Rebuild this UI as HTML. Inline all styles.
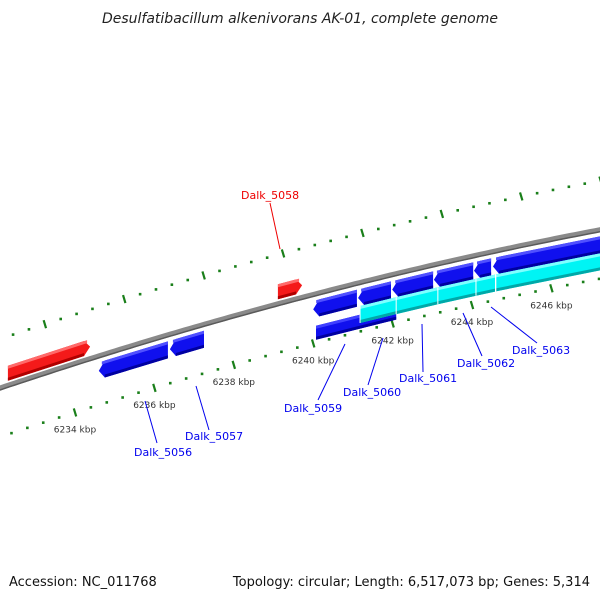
<!DOCTYPE html>
<html><head><meta charset="utf-8"><style>
html,body{margin:0;padding:0;background:#fff;}
svg{display:block;font-family:"DejaVu Sans","Liberation Sans",sans-serif;}
</style></head><body>
<svg id="chart" width="600" height="600" viewBox="0 0 600 600" xmlns="http://www.w3.org/2000/svg">
<text x="300" y="23" text-anchor="middle" font-size="14" font-style="italic" fill="#222">Desulfatibacillum alkenivorans AK-01, complete genome</text>
<g id="ticks"></g>
<g id="backbone"></g>
<g id="genes"></g>
<g id="labels"></g>
<text x="9" y="586" font-size="13" fill="#111">Accession: NC_011768</text>
<text x="590" y="586" text-anchor="end" font-size="13" fill="#111">Topology: circular; Length: 6,517,073 bp; Genes: 5,314</text>
</svg>
<script>
// gene data (kbp)
const geneStart = [6232.31,6239.11,6234.60,6236.39,6240.00,6241.13,6241.99,6243.04,6244.05,6244.53,6240.07,6241.18,6242.09,6243.14,6244.10,6244.60];
const geneEnd   = [6234.38,6239.72,6236.34,6237.25,6241.10,6241.96,6243.02,6244.03,6244.48,6247.40,6242.09,6242.09,6243.14,6244.10,6244.58,6247.40];
const geneTrack = ['red','red','b1','b1','b1','b1','b1','b1','b1','b1','b2','cy','cy','cy','cy','cy'];
const geneDir   = [1,1,-1,-1,-1,-1,-1,-1,-1,-1,0,0,0,0,0,0];
const kbpTicks = [6234,6236,6238,6240,6242,6244,6246];
const labelNames = ['Dalk_5058','Dalk_5056','Dalk_5057','Dalk_5059','Dalk_5060','Dalk_5061','Dalk_5062','Dalk_5063'];

const NS='http://www.w3.org/2000/svg';
function gy(x){return 388-0.337*x+1.22e-4*x*x;}
function xk(kb){return 75+(kb-6234)*39.7;}
function mk(tag,attrs,parent){const e=document.createElementNS(NS,tag);for(const k in attrs)e.setAttribute(k,attrs[k]);parent.appendChild(e);return e;}
function pts(a){return a.map(p=>p[0].toFixed(1)+','+p[1].toFixed(1)).join(' ');}

// backbone
const bb=document.getElementById('backbone');
let d1='',d2='';
for(let x=-5;x<=605;x+=5){d1+=(x===-5?'M':'L')+x+','+(gy(x)).toFixed(1);d2+=(x===-5?'M':'L')+x+','+(gy(x)+2).toFixed(1);}
const b1=mk('path',{d:d1,stroke:'#8a8a8a','stroke-width':5,fill:'none'},bb);


const b2=mk('path',{d:d2,stroke:'#5a5a5a','stroke-width':1.5,fill:'none'},bb);



// ticks
const tg=document.getElementById('ticks');
function drawTrack(phase,off,name){
  for(let i=-10;i<50;i++){
    const kb=phase+i*0.4;const x=xk(kb);if(x<-5||x>605)continue;
    const y=gy(x)+off;const major=(((i%5)+5)%5)===0;
    let e;
    if(major){e=mk('line',{x1:x-1.2,y1:y-4,x2:x+1.2,y2:y+4,stroke:'#1a7f1a','stroke-width':2.2},tg);}
    else{e=mk('rect',{x:x-1.3,y:y-1.3,width:2.6,height:2.6,fill:'#1a7f1a'},tg);}
    
    
  }
}
drawTrack(6234,49,'lower-tick');
drawTrack(6233.24,-49,'upper-tick');
kbpTicks.forEach(kb=>{
  const x=xk(kb);
  const t=mk('text',{x:x,y:gy(x)+49+20,'text-anchor':'middle','font-size':9,fill:'#333'},tg);
  t.textContent=kb+' kbp';
  
  
});

// genes
const gg=document.getElementById('genes');
const tracks={red:{o:-12,h:15,c:'#f41a1a',hi:'#ff6a6a',lo:'#b00000'},b1:{o:15,h:17,c:'#1010ee',hi:'#5050ff',lo:'#0000a0'},b2:{o:39,h:14,c:'#1010ee',hi:'#4040ff',lo:'#0000a0'},cy:{o:32,h:17,c:'#00f4f4',hi:'#7fffff',lo:'#00a8a8'}};
function band(x1,x2,o,t1,t2,dir,tip){
  const c=o;
  const T=(x,off)=>[x,gy(x)+off];
  if(dir===-1){return [T(x1,c),T(x1+tip,t1),T(x2,t1),T(x2,t2),T(x1+tip,t2)];}
  if(dir===1){return [T(x1,t1),T(x2-tip,t1),T(x2,c),T(x2-tip,t2),T(x1,t2)];}
  return [T(x1,t1),T(x2,t1),T(x2,t2),T(x1,t2)];
}
for(let i=0;i<geneStart.length;i++){
  const tr=tracks[geneTrack[i]];
  const x1=xk(geneStart[i]),x2=xk(geneEnd[i]);
  const top=tr.o-tr.h/2,bot=tr.o+tr.h/2,dir=geneDir[i],tip=6;
  const g=mk('g',{},gg);
  
  
  mk('polygon',{points:pts(band(x1,x2,tr.o,top,bot,dir,tip)),fill:tr.c},g);
  mk('polygon',{points:pts(band(x1+(dir===-1?3:0),x2-(dir===1?3:0),top+2,top,top+3,0,0)),fill:tr.hi},g);
  mk('polygon',{points:pts(band(x1+(dir===-1?tip:0),x2-(dir===1?tip:0),bot-2,bot-3,bot,0,0)),fill:tr.lo},g);
  if(geneTrack[i]==='cy'){mk('line',{x1:x1,y1:gy(x1)+top,x2:x1,y2:gy(x1)+bot,stroke:'#fff','stroke-width':1},g);}
}

// labels
const lblText=[[241,199],[134,456],[185,440],[284,412],[343,396],[399,382],[457,367],[512,354]];
const lblLine=[[270,203,280,249],[145,401,157,443],[196,386,209,430],[345,344,318,400],[383,338,368,385],[422,324,423,372],[463,313,482,356],[491,307,537,343]];
const lg=document.getElementById('labels');
labelNames.forEach((n,i)=>{
  const col=i===0?'#ee0000':'#0000ee';
  const l=lblLine[i];
  const ln=mk('line',{x1:l[0],y1:l[1],x2:l[2],y2:l[3],stroke:col,'stroke-width':1},lg);
  
  
  const t=mk('text',{x:lblText[i][0],y:lblText[i][1],'font-size':11,fill:col},lg);
  t.textContent=n;
  
  
});
</script>
</body></html>
